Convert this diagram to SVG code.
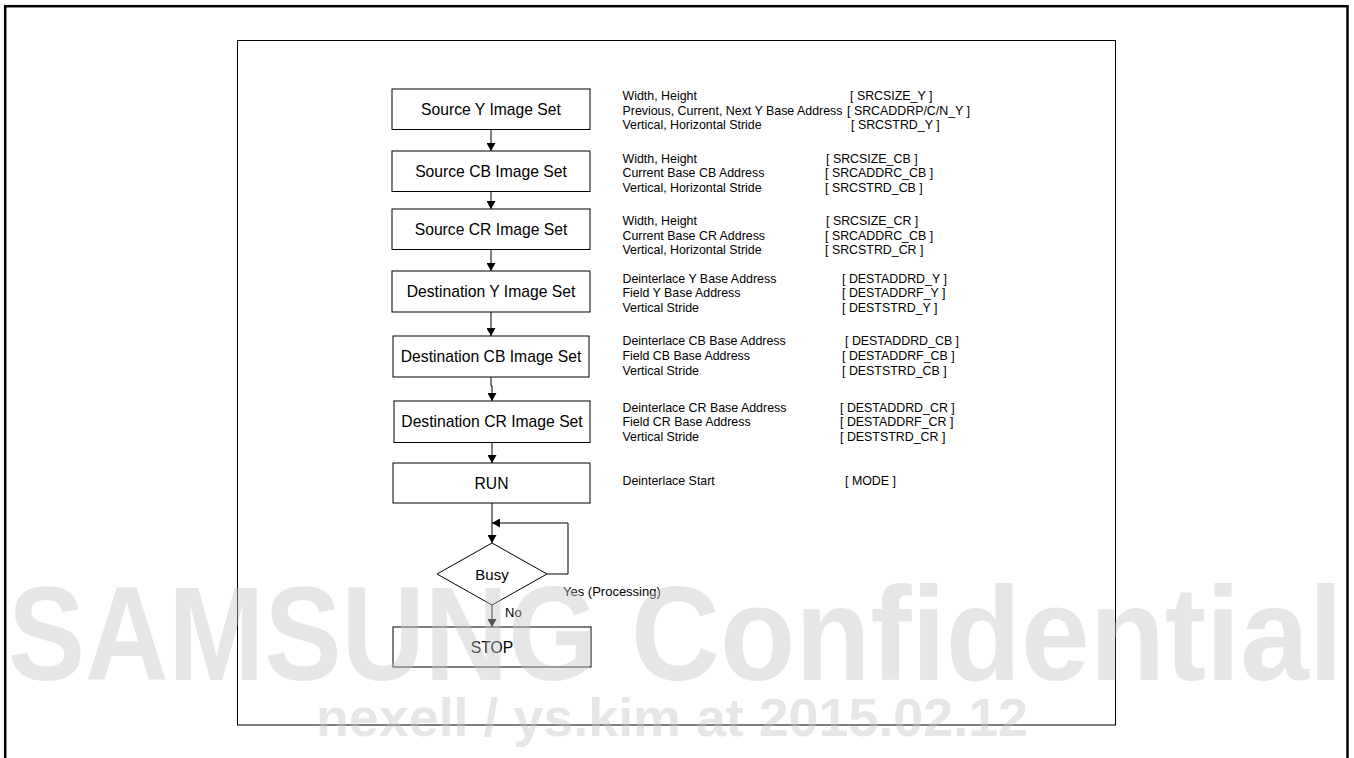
<svg xmlns="http://www.w3.org/2000/svg" width="1354" height="758" viewBox="0 0 1354 758">
  <style>
    .box { fill: #fff; stroke: #000; stroke-width: 1; }
    .lbl { font-family: "Liberation Sans", Arial, sans-serif; font-size: 15.7px; fill: #000; text-anchor: middle; }
    .reg { font-family: "Liberation Sans", Arial, sans-serif; font-size: 12.4px; fill: #000; }
    .small { font-family: "Liberation Sans", Arial, sans-serif; font-size: 13px; fill: #000; }
    .wire { fill: none; stroke: #000; stroke-width: 1; }
    .mark { font-family: "Liberation Sans", Arial, sans-serif; font-weight: bold; fill: #c4c4c4; fill-opacity: 0.42; }
  </style>
  <defs>
    <marker id="arrow" viewBox="0 0 8 9" refX="8" refY="4.5" markerWidth="8" markerHeight="9" markerUnits="userSpaceOnUse" orient="auto">
      <path d="M0,0 L8,4.5 L0,9 z" fill="#000"/>
    </marker>
  </defs>

  <rect width="1354" height="758" fill="#fff"/>
  <!-- page border -->
  <rect x="5.2" y="6.2" width="1342.3" height="770" fill="none" stroke="#000" stroke-width="2.5"/>
  <!-- figure frame -->
  <rect x="237.5" y="40.5" width="878" height="684.5" fill="none" stroke="#000" stroke-width="1"/>

  <!-- connectors -->
  <g id="connectors">
    <path class="wire" d="M491 129.5 V151" marker-end="url(#arrow)"/>
    <path class="wire" d="M491 191.5 V209" marker-end="url(#arrow)"/>
    <path class="wire" d="M491 249.5 V271" marker-end="url(#arrow)"/>
    <path class="wire" d="M491 312 V336" marker-end="url(#arrow)"/>
    <path class="wire" d="M491 377 V386 H492 V401" marker-end="url(#arrow)"/>
    <path class="wire" d="M492 442.5 V463" marker-end="url(#arrow)"/>
    <path class="wire" d="M492 503 V543" marker-end="url(#arrow)"/>
    <path class="wire" d="M547 574 H568 V523 H492" marker-end="url(#arrow)"/>
    <path class="wire" d="M492 605 V627" marker-end="url(#arrow)"/>
  </g>

  <!-- process steps -->
  <g id="src-y">
    <rect class="box" x="392" y="89" width="198" height="40.5"/>
    <text class="lbl" x="491" y="114.5">Source Y Image Set</text>
  </g>
  <g id="src-cb">
    <rect class="box" x="392" y="151" width="198" height="40.5"/>
    <text class="lbl" x="491" y="176.5">Source CB Image Set</text>
  </g>
  <g id="src-cr">
    <rect class="box" x="392" y="209" width="198" height="40.5"/>
    <text class="lbl" x="491" y="234.5">Source CR Image Set</text>
  </g>
  <g id="dst-y">
    <rect class="box" x="392" y="271" width="198" height="41"/>
    <text class="lbl" x="491" y="297">Destination Y Image Set</text>
  </g>
  <g id="dst-cb">
    <rect class="box" x="393" y="336" width="196" height="41"/>
    <text class="lbl" x="491" y="362">Destination CB Image Set</text>
  </g>
  <g id="dst-cr">
    <rect class="box" x="394" y="401" width="196" height="41.5"/>
    <text class="lbl" x="492" y="427">Destination CR Image Set</text>
  </g>
  <g id="run">
    <rect class="box" x="393" y="463" width="197" height="40"/>
    <text class="lbl" x="491.5" y="488.5">RUN</text>
  </g>
  <g id="busy">
    <polygon class="box" points="437,574 492,543 547,574 492,605"/>
    <text class="lbl" x="492" y="580" style="font-size:15px">Busy</text>
  </g>
  <g id="stop">
    <rect class="box" x="393" y="627" width="198" height="40"/>
    <text class="lbl" x="492" y="652.5">STOP</text>
  </g>

  <!-- branch labels -->
  <g id="branch-labels">
    <text class="small" x="563" y="596">Yes (Processing)</text>
    <text class="small" x="505" y="617">No</text>
  </g>

  <!-- register notes -->
  <g id="notes-src-y">
    <text class="reg" x="622.5" y="100">Width, Height</text>
    <text class="reg" x="622.5" y="114.5">Previous, Current, Next Y Base Address</text>
    <text class="reg" x="622.5" y="129">Vertical, Horizontal Stride</text>
    <text class="reg" x="850" y="100">[ SRCSIZE_Y ]</text>
    <text class="reg" x="847" y="114.5">[ SRCADDRP/C/N_Y ]</text>
    <text class="reg" x="851" y="129">[ SRCSTRD_Y ]</text>
  </g>
  <g id="notes-src-cb">
    <text class="reg" x="622.5" y="162.5">Width, Height</text>
    <text class="reg" x="622.5" y="177">Current Base CB Address</text>
    <text class="reg" x="622.5" y="191.5">Vertical, Horizontal Stride</text>
    <text class="reg" x="826" y="162.5">[ SRCSIZE_CB ]</text>
    <text class="reg" x="825" y="177">[ SRCADDRC_CB ]</text>
    <text class="reg" x="825" y="191.5">[ SRCSTRD_CB ]</text>
  </g>
  <g id="notes-src-cr">
    <text class="reg" x="622.5" y="225">Width, Height</text>
    <text class="reg" x="622.5" y="239.5">Current Base CR Address</text>
    <text class="reg" x="622.5" y="254">Vertical, Horizontal Stride</text>
    <text class="reg" x="826" y="225">[ SRCSIZE_CR ]</text>
    <text class="reg" x="825" y="239.5">[ SRCADDRC_CB ]</text>
    <text class="reg" x="825" y="254">[ SRCSTRD_CR ]</text>
  </g>
  <g id="notes-dst-y">
    <text class="reg" x="622.5" y="282.5">Deinterlace Y Base Address</text>
    <text class="reg" x="622.5" y="297">Field Y Base Address</text>
    <text class="reg" x="622.5" y="311.5">Vertical Stride</text>
    <text class="reg" x="842" y="282.5">[ DESTADDRD_Y ]</text>
    <text class="reg" x="842" y="297">[ DESTADDRF_Y ]</text>
    <text class="reg" x="842" y="311.5">[ DESTSTRD_Y ]</text>
  </g>
  <g id="notes-dst-cb">
    <text class="reg" x="622.5" y="345">Deinterlace CB Base Address</text>
    <text class="reg" x="622.5" y="360">Field CB Base Address</text>
    <text class="reg" x="622.5" y="374.5">Vertical Stride</text>
    <text class="reg" x="845" y="345">[ DESTADDRD_CB ]</text>
    <text class="reg" x="842" y="360">[ DESTADDRF_CB ]</text>
    <text class="reg" x="842" y="374.5">[ DESTSTRD_CB ]</text>
  </g>
  <g id="notes-dst-cr">
    <text class="reg" x="622.5" y="411.5">Deinterlace CR Base Address</text>
    <text class="reg" x="622.5" y="426">Field CR Base Address</text>
    <text class="reg" x="622.5" y="440.5">Vertical Stride</text>
    <text class="reg" x="840" y="411.5">[ DESTADDRD_CR ]</text>
    <text class="reg" x="840" y="426">[ DESTADDRF_CR ]</text>
    <text class="reg" x="840" y="440.5">[ DESTSTRD_CR ]</text>
  </g>
  <g id="notes-run">
    <text class="reg" x="622.5" y="484.5">Deinterlace Start</text>
    <text class="reg" x="845" y="484.5">[ MODE ]</text>
  </g>

  <!-- confidentiality stamp -->
  <g id="stamp">
    <text class="mark" x="8" y="680" font-size="133" textLength="590" lengthAdjust="spacingAndGlyphs">SAMSUNG</text>
    <text class="mark" x="631" y="680" font-size="133" textLength="712" lengthAdjust="spacingAndGlyphs">Confidential</text>
    <text class="mark" x="316" y="736" font-size="54" textLength="712" lengthAdjust="spacingAndGlyphs">nexell / ys.kim at 2015.02.12</text>
  </g>
</svg>
